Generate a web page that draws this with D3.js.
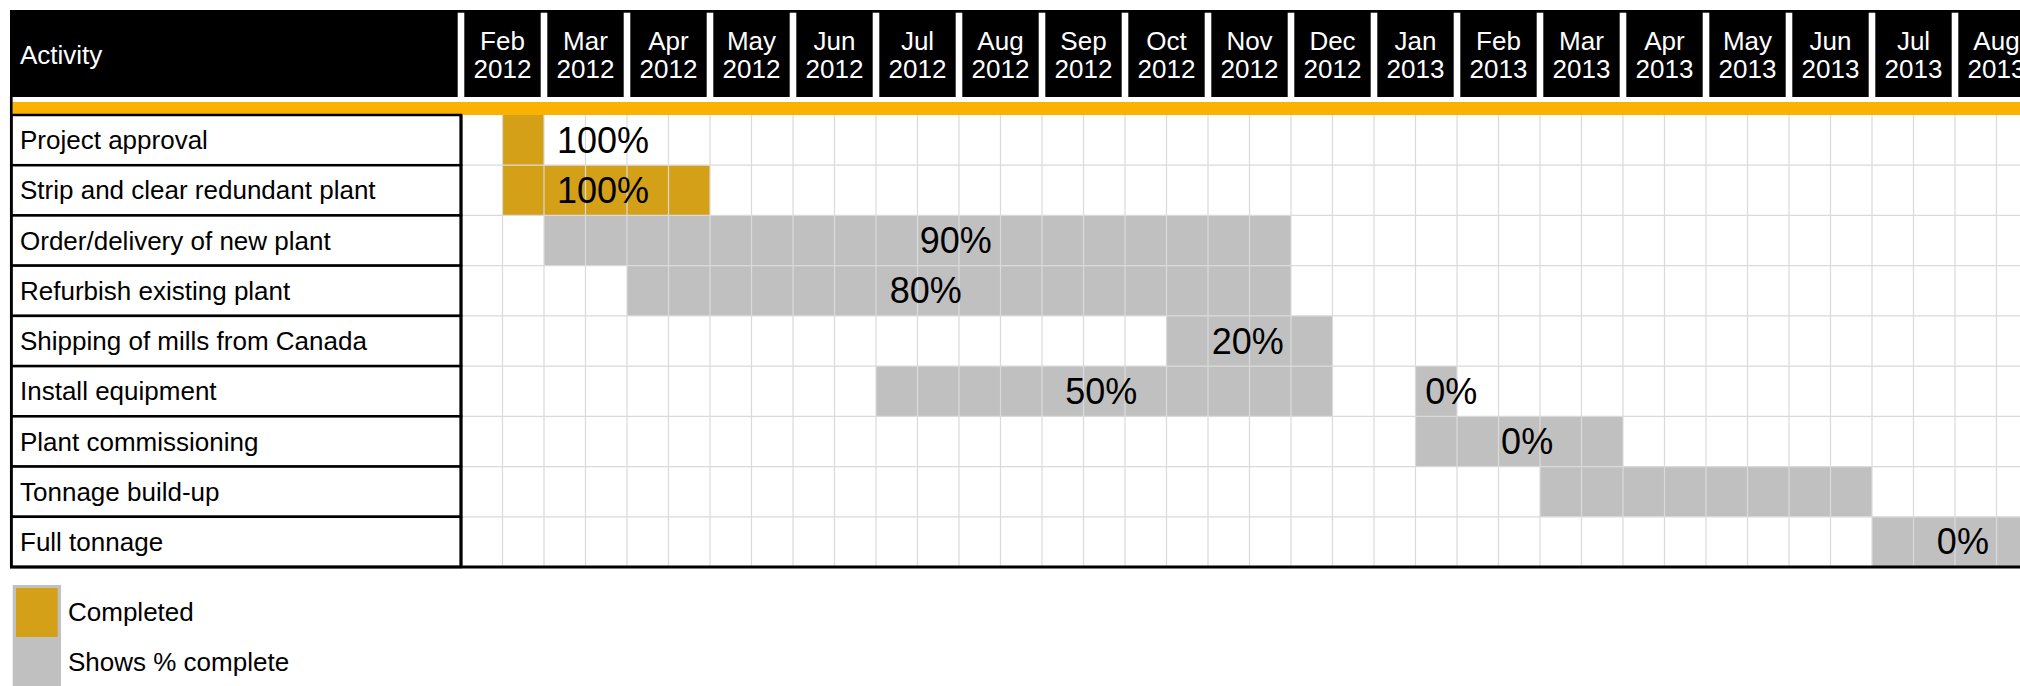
<!DOCTYPE html>
<html>
<head>
<meta charset="utf-8">
<script src="https://cdn.jsdelivr.net/npm/d3@7"></script>
<style>
	html, body { margin: 0; padding: 0; background: #fff; }
	svg { display: block; font-family: Arial, "Liberation Sans", sans-serif; }
</style>
</head>
<body>
<div id="wrapper"></div>
<script>
// months shown in the header (half-month columns underneath)
const monthNames = ["Feb", "Mar", "Apr", "May", "Jun", "Jul", "Aug", "Sep", "Oct", "Nov", "Dec",
	"Jan", "Feb", "Mar", "Apr", "May", "Jun", "Jul", "Aug"];
const monthYears = ["2012", "2012", "2012", "2012", "2012", "2012", "2012", "2012", "2012", "2012", "2012",
	"2013", "2013", "2013", "2013", "2013", "2013", "2013", "2013"];

const activities = [
	"Project approval",
	"Strip and clear redundant plant",
	"Order/delivery of new plant",
	"Refurbish existing plant",
	"Shipping of mills from Canada",
	"Install equipment",
	"Plant commissioning",
	"Tonnage build-up",
	"Full tonnage",
];

// bar segments, in half-month columns (0 = first half of Feb 2012)
const segActivity = [0, 1, 2, 3, 4, 5, 5, 6, 7, 8];
const segStart = [1, 1, 2, 4, 17, 10, 23, 23, 26, 34];
const segEnd = [2, 6, 20, 20, 21, 21, 24, 28, 34, 38];
const segDone = [true, true, false, false, false, false, false, false, false, false];

// percentage labels (centre position in half-month columns)
const pctActivity = [0, 1, 2, 3, 4, 5, 5, 6, 8];
const pctText = ["100%", "100%", "90%", "80%", "20%", "50%", "0%", "0%", "0%"];
const pctAt = [3.42, 3.42, 11.92, 11.2, 18.96, 15.43, 23.86, 25.69, 36.19];

const legendLabels = ["Completed", "Shows % complete"];

const width = 2020;
const height = 686;
const tableLeft = 10;
const gridLeft = 461;
const colWidth = 41.5;
const halfMonths = monthNames.length * 2;

const colors = {
	done: "#D4A017",
	progress: "#C0C0C0",
	band: "#F9B200",
	grid: "#DADADA",
};

const svg = d3
	.select("#wrapper")
	.append("svg")
	.attr("width", width)
	.attr("height", height);

const xScale = d3
	.scaleLinear()
	.domain([0, halfMonths])
	.range([gridLeft, gridLeft + halfMonths * colWidth]);

const monthScale = d3
	.scaleBand()
	.domain(d3.range(monthNames.length))
	.range([gridLeft, gridLeft + halfMonths * colWidth]);

const yScale = d3
	.scaleBand()
	.domain(d3.range(activities.length))
	.range([115, 567]);

// header
svg.append("rect")
	.attr("x", tableLeft)
	.attr("y", 10)
	.attr("width", width - tableLeft)
	.attr("height", 87)
	.attr("fill", "#000");

svg.append("g")
	.selectAll("rect")
	.data(d3.range(monthNames.length))
	.join("rect")
	.attr("x", (d) => monthScale(d) - 3.3)
	.attr("y", 12.7)
	.attr("width", 6.6)
	.attr("height", 88)
	.attr("fill", "#fff");

svg.append("text")
	.attr("x", tableLeft + 10)
	.attr("y", 55)
	.attr("dy", "0.35em")
	.attr("fill", "#fff")
	.attr("font-size", 26)
	.text("Activity");

const monthText = svg.append("g")
	.attr("fill", "#fff")
	.attr("font-size", 26)
	.attr("text-anchor", "middle");
monthText.selectAll(".m")
	.data(monthNames)
	.join("text")
	.attr("class", "m")
	.attr("x", (d, i) => monthScale(i) + monthScale.bandwidth() / 2)
	.attr("y", 50)
	.text((d) => d);
monthText.selectAll(".yr")
	.data(monthYears)
	.join("text")
	.attr("class", "yr")
	.attr("x", (d, i) => monthScale(i) + monthScale.bandwidth() / 2)
	.attr("y", 78)
	.text((d) => d);

// orange band
svg.append("rect")
	.attr("x", 12.7)
	.attr("y", 102)
	.attr("width", width)
	.attr("height", 13)
	.attr("fill", colors.band);

// bars
svg.append("g")
	.selectAll("rect")
	.data(segStart)
	.join("rect")
	.attr("x", (d) => xScale(d))
	.attr("y", (d, i) => yScale(segActivity[i]))
	.attr("width", (d, i) => xScale(segEnd[i]) - xScale(d))
	.attr("height", yScale.bandwidth())
	.attr("fill", (d, i) => (segDone[i] ? colors.done : colors.progress));

// grid lines over the bars
const grid = svg.append("g")
	.attr("stroke", colors.grid)
	.attr("stroke-width", 1.2);
grid.selectAll(".v")
	.data(d3.range(1, halfMonths))
	.join("line")
	.attr("class", "v")
	.attr("x1", (d) => xScale(d))
	.attr("x2", (d) => xScale(d))
	.attr("y1", yScale.range()[0])
	.attr("y2", yScale.range()[1]);
grid.selectAll(".h")
	.data(d3.range(1, activities.length))
	.join("line")
	.attr("class", "h")
	.attr("x1", gridLeft)
	.attr("x2", width)
	.attr("y1", (d) => yScale(d))
	.attr("y2", (d) => yScale(d));

// activity column
const labels = svg.append("g");
labels.selectAll("rect")
	.data(activities)
	.join("rect")
	.attr("x", tableLeft + 1.3)
	.attr("y", (d, i) => yScale(i))
	.attr("width", gridLeft - tableLeft - 1.3)
	.attr("height", yScale.bandwidth())
	.attr("fill", "#fff")
	.attr("stroke", "#000")
	.attr("stroke-width", 2.5);
labels.selectAll("text")
	.data(activities)
	.join("text")
	.attr("x", tableLeft + 10)
	.attr("y", (d, i) => yScale(i) + yScale.bandwidth() / 2)
	.attr("dy", "0.35em")
	.attr("font-size", 26)
	.attr("fill", "#000")
	.text((d) => d);

// outer borders
svg.append("line")
	.attr("x1", tableLeft + 1.3)
	.attr("x2", tableLeft + 1.3)
	.attr("y1", 97)
	.attr("y2", 567)
	.attr("stroke", "#000")
	.attr("stroke-width", 2.7);
svg.append("line")
	.attr("x1", gridLeft)
	.attr("x2", gridLeft)
	.attr("y1", 115)
	.attr("y2", 568)
	.attr("stroke", "#000")
	.attr("stroke-width", 3);
svg.append("line")
	.attr("x1", tableLeft)
	.attr("x2", width)
	.attr("y1", 567)
	.attr("y2", 567)
	.attr("stroke", "#000")
	.attr("stroke-width", 3);

// percentage labels
svg.append("g")
	.attr("font-size", 36)
	.attr("text-anchor", "middle")
	.attr("fill", "#000")
	.selectAll("text")
	.data(pctText)
	.join("text")
	.attr("x", (d, i) => xScale(pctAt[i]))
	.attr("y", (d, i) => yScale(pctActivity[i]) + yScale.bandwidth() / 2)
	.attr("dy", "0.35em")
	.text((d) => d);

// legend
const legendY = d3.scaleBand().domain(legendLabels).range([587, 687]);
const legend = svg.append("g");
legend.append("rect")
	.attr("x", 12.7)
	.attr("y", 585)
	.attr("width", 48.3)
	.attr("height", 101)
	.attr("fill", colors.progress);
legend.append("rect")
	.attr("x", 16)
	.attr("y", legendY(legendLabels[0]) + 1)
	.attr("width", 41.7)
	.attr("height", legendY.bandwidth() - 1)
	.attr("fill", colors.done);
legend.selectAll("text")
	.data(legendLabels)
	.join("text")
	.attr("x", 68)
	.attr("y", (d) => legendY(d) + legendY.bandwidth() / 2)
	.attr("dy", "0.35em")
	.attr("font-size", 26)
	.attr("fill", "#000")
	.text((d) => d);
</script>
</body>
</html>
